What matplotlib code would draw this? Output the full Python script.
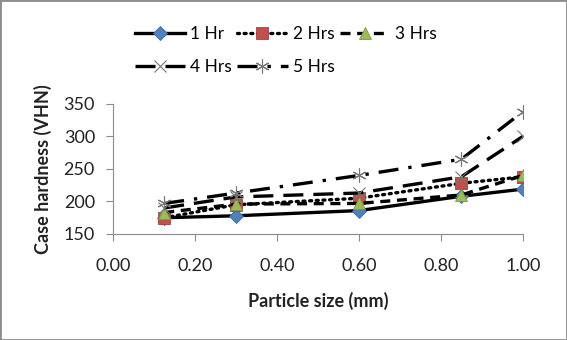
import matplotlib
matplotlib.use("Agg")
import matplotlib.pyplot as plt
from matplotlib.patches import Rectangle

plt.rcParams['font.family'] = ['Lato', 'DejaVu Sans']

particle_size = [0.125, 0.3, 0.6, 0.85, 1.0]
hr1 = [175, 178, 186, 208, 219]
hr2 = [175, 195, 205, 228, 238]
hr3 = [183, 196, 197, 210, 240]
hr4 = [190, 207, 213, 238, 300]
hr5 = [197, 213, 240, 265, 338]
labels = ['1 Hr', '2 Hrs', '3 Hrs', '4 Hrs', '5 Hrs']
x_ticks = [0.0, 0.2, 0.4, 0.6, 0.8, 1.0]
y_ticks = [150, 200, 250, 300, 350]

fig = plt.figure(figsize=(5.67, 3.4), dpi=100)
ax = fig.add_axes([0.1993, 0.3118, 0.7227, 0.3824])

lw = 2.4
h1, = ax.plot(particle_size, hr1, color='black', lw=lw, ls='-', marker='D',
              ms=7, mfc='#4F81BD', mec='#3A6AA6', mew=0.6, label=labels[0])
h2, = ax.plot(particle_size, hr2, color='black', lw=lw, ls=(0, (0.6, 1.4)),
              dash_capstyle='round', marker='s', ms=8, mfc='#C0504D',
              mec='#A04040', mew=0.6, label=labels[1])
h3, = ax.plot(particle_size, hr3, color='black', lw=lw, ls=(0, (3, 2)),
              marker='^', ms=9, mfc='#9BBB59', mec='#7A9A40', mew=0.6,
              label=labels[2])
h4, = ax.plot(particle_size, hr4, color='black', lw=lw, ls=(0, (6, 3)),
              marker='x', ms=9, mec='#777777', mew=0.8, label=labels[3])
h5, = ax.plot(particle_size, hr5, color='black', lw=lw,
              ls=(0, (6, 3, 1, 3)), marker=(6, 2, 0), ms=10, mec='#777777',
              mew=0.8, label=labels[4])

ax.set_xlim(0, 1.0)
ax.set_ylim(150, 350)
ax.set_xticks(x_ticks)
ax.set_xticklabels([f'{v:.2f}' for v in x_ticks])
ax.set_yticks(y_ticks)
for s in ['top', 'right']:
    ax.spines[s].set_visible(False)
for s in ['left', 'bottom']:
    ax.spines[s].set_color('#8C8C8C')
    ax.spines[s].set_linewidth(0.8)
ax.tick_params(axis='both', direction='out', length=5, width=0.8,
               color='#8C8C8C', labelsize=13, labelcolor='#222222')
ax.tick_params(axis='x', pad=12)
ax.tick_params(axis='y', pad=8)
ax.set_xlabel('Particle size (mm)', fontsize=13, fontweight='bold',
              color='#222222', labelpad=13)
ax.set_ylabel('Case hardness (VHN)', fontsize=13, fontweight='bold',
              color='#222222', labelpad=8)

handles = [h1, h4, h2, h5, h3]
fig.legend(handles=handles, labels=[h.get_label() for h in handles],
           ncol=3, loc='upper left', bbox_to_anchor=(0.21, 0.97),
           frameon=False, fontsize=12.5, handlelength=2.9, handletextpad=0.3,
           columnspacing=0.3, labelspacing=1.0)

fig.patches.append(Rectangle((0, 0), 1, 1, transform=fig.transFigure,
                             fill=False, edgecolor='#8C8C8C', lw=2))

fig.savefig('out.png', dpi=100)
